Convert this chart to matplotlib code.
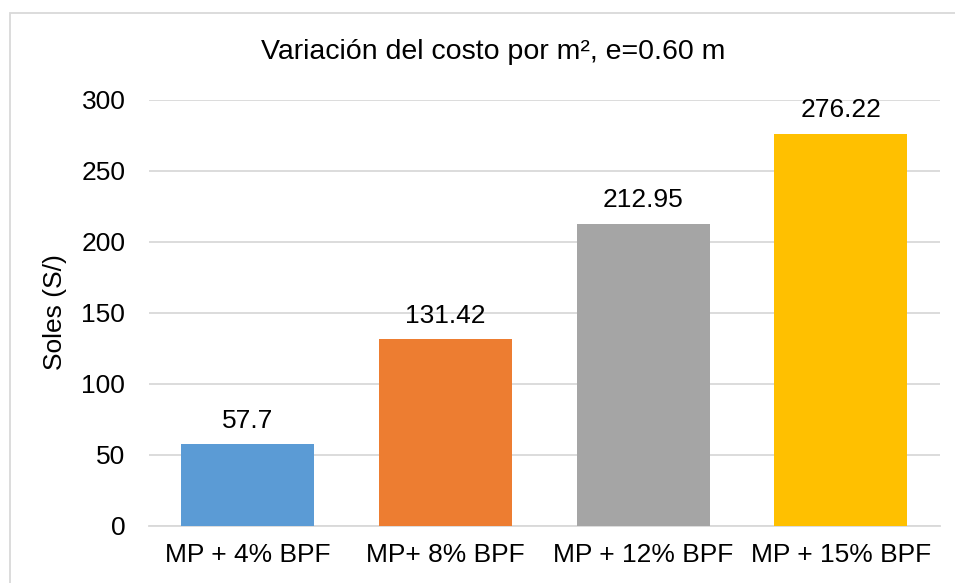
import matplotlib
matplotlib.use("Agg")
import matplotlib.pyplot as plt
from matplotlib.patches import Rectangle

categories = ["MP + 4% BPF", "MP+ 8% BPF", "MP + 12% BPF", "MP + 15% BPF"]
values = [57.7, 131.42, 212.95, 276.22]
labels = ["57.7", "131.42", "212.95", "276.22"]
colors = ["#5b9bd5", "#ed7d31", "#a5a5a5", "#ffc000"]

plt.rcParams["font.family"] = ["Liberation Sans", "DejaVu Sans"]
FS = 19

fig = plt.figure(figsize=(9.55, 5.83), dpi=100)
ax = fig.add_axes([0.156, 0.098, 0.828, 0.7305])

x = range(len(categories))
ax.bar(x, values, width=0.673, color=colors, zorder=3)
for xi, v, t in zip(x, values, labels):
    ax.text(xi, v + 11.5, t, ha="center", va="baseline", fontsize=FS, color="#000000", zorder=4)

ax.set_xlim(-0.5, 3.5)
ax.set_ylim(0, 300)
ax.set_yticks(range(0, 301, 50))
ax.set_xticks(list(x))
ax.set_xticklabels(categories)
ax.tick_params(length=0, labelsize=FS, colors="#000000")
ax.tick_params(axis="y", pad=17)
ax.tick_params(axis="x", pad=12)
ax.yaxis.grid(True, color="#d9d9d9", lw=1.3, zorder=0)
for s in ["top", "right", "left"]:
    ax.spines[s].set_visible(False)
ax.spines["bottom"].set_color("#d9d9d9")
ax.spines["bottom"].set_linewidth(1.3)

fig.text(55 / 955, 0.465, "Soles (S/)", rotation=90, ha="center", va="center", fontsize=FS)
fig.text(0.516, 0.911, "Variación del costo por m², e=0.60 m", ha="center", va="center", fontsize=20.5)

fig.patches.append(Rectangle((10 / 955, -0.05), 1.2, 1 - 13 / 583 + 0.05, transform=fig.transFigure,
                             fill=False, edgecolor="#d9d9d9", lw=1.3))

fig.savefig("out.png", dpi=100, facecolor="white")
